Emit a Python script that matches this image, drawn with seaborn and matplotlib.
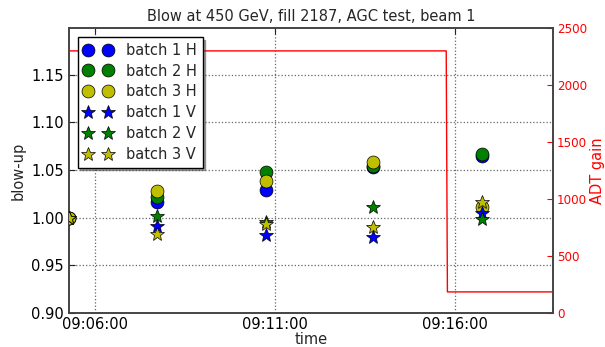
import matplotlib
matplotlib.use("Agg")
import matplotlib.pyplot as plt
import matplotlib.dates as mdates
from matplotlib.patches import Rectangle
import numpy as np
import pandas as pd
import seaborn as sns

# Blow-up measurements per batch and plane
day = "2011-10-08 "
scan_times = ["09:05:17", "09:07:44", "09:10:45", "09:13:44", "09:16:45"]
batch1_h = [1.000, 1.017, 1.029, 1.053, 1.065]
batch2_h = [1.000, 1.022, 1.048, 1.054, 1.067]
batch3_h = [1.000, 1.028, 1.039, 1.058, 1.011]
batch1_v = [1.000, 0.991, 0.982, 0.980, 1.005]
batch2_v = [1.000, 1.002, 0.996, 1.011, 0.999]
batch3_v = [1.000, 0.983, 0.993, 0.990, 1.016]

# Transverse damper gain setting
gain_times = ["09:05:17", "09:15:46", "09:15:48", "09:18:44"]
gain_values = [2300, 2300, 185, 185]

series_labels = ["batch 1 H", "batch 2 H", "batch 3 H",
                 "batch 1 V", "batch 2 V", "batch 3 V"]
series_values = [batch1_h, batch2_h, batch3_h, batch1_v, batch2_v, batch3_v]
series_colors = ["#0000ff", "#008000", "#bfbf00", "#0000ff", "#008000", "#bfbf00"]
series_markers = ["o", "o", "o", "*", "*", "*"]
series_sizes = [9.3, 9.3, 9.3, 10.5, 10.5, 10.5]

sns.set_style("white")
plt.rcParams.update({
    "font.family": ["DejaVu Sans"],
    "font.size": 10.5,
    "axes.edgecolor": "#444444",
    "axes.linewidth": 1.2,
    "xtick.direction": "in",
    "ytick.direction": "in",
})

t_scan = pd.to_datetime([day + t for t in scan_times])
t_gain = pd.to_datetime([day + t for t in gain_times])

fig = plt.figure(figsize=(6.05, 3.47), dpi=100)
ax = fig.add_axes([0.114, 0.098, 0.8, 0.821])
ax2 = ax.twinx()
ax.set_zorder(ax2.get_zorder() + 1)
ax.patch.set_visible(False)

sns.lineplot(x=t_gain, y=gain_values, ax=ax2, color="red", linewidth=1.0,
             estimator=None, sort=False, legend=False)

for lab, vals, col, mk, ms in zip(series_labels, series_values, series_colors,
                                  series_markers, series_sizes):
    sns.lineplot(x=t_scan, y=vals, ax=ax, color=col, marker=mk, linestyle="",
                 markersize=ms, markeredgecolor="black", markeredgewidth=0.5,
                 estimator=None, sort=False, label=lab, zorder=3)

# markers sitting on the frame are cut by the plotting area
frame_clip = Rectangle((0, 0), 1, 1, transform=ax.transAxes)
for line in ax.lines:
    line.set_clip_path(frame_clip)

ax.set_xlim(t_gain[0], t_gain[-1])
ax.set_ylim(0.9, 1.199)
ax.set_yticks([0.90, 0.95, 1.00, 1.05, 1.10, 1.15])
ax.yaxis.set_major_formatter(matplotlib.ticker.FormatStrFormatter("%.2f"))
ax.xaxis.set_major_locator(mdates.MinuteLocator(byminute=[6, 11, 16]))
ax.xaxis.set_major_formatter(mdates.DateFormatter("%H:%M:%S"))
ax.grid(True, linestyle=":", color="#666666", linewidth=0.9)
ax.tick_params(axis="both", which="both", top=True, length=4, width=0.8,
               colors="#222222", labelcolor="black")
ax.tick_params(axis="x", pad=3)
ax.set_xlabel("time", labelpad=0)
ax.set_ylabel("blow-up", labelpad=4)
ax.set_title("Blow at 450 GeV, fill 2187, AGC test, beam 1", fontsize=10.5, pad=5)

ax2.set_ylim(0, 2500)
ax2.set_yticks([0, 500, 1000, 1500, 2000, 2500])
ax2.tick_params(axis="y", colors="red", length=4, width=0.8, direction="in",
                labelsize=8.6, pad=3)
ax2.set_ylabel("ADT gain", color="red", labelpad=2)
for sp in ax2.spines.values():
    sp.set_edgecolor("#444444")
    sp.set_linewidth(1.2)

leg = ax.legend(loc="upper left", numpoints=2,
                shadow=True, fancybox=False, framealpha=1.0, edgecolor="black",
                borderaxespad=0.6, handletextpad=0.9, labelspacing=0.4,
                borderpad=0.4, handlelength=2.0)
leg.get_frame().set_linewidth(1.0)

fig.savefig("out.png", dpi=100)
